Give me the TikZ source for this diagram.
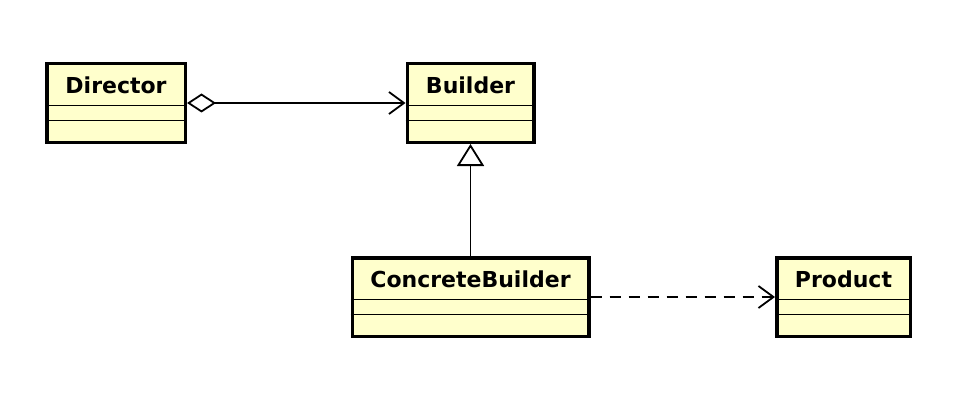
\documentclass[tikz,border=0pt]{standalone}
\usepackage{fontspec}
\setmainfont{DejaVu Sans}
\usepackage{tikz}
\usetikzlibrary{arrows.meta,calc}
\definecolor{classfill}{HTML}{FFFFCC}

\begin{document}
\begin{tikzpicture}[x=1pt,y=-1pt,
  umlclass/.style={draw,line width=3.5pt,fill=classfill,inner sep=0pt,
    text height=29.5pt,text depth=49pt,
    font=\fontsize{22}{26}\selectfont\bfseries},
  divider/.style={line width=1.8pt},
  link/.style={line width=1.8pt}]
\useasboundingbox (0,0) rectangle (978,396);
% classes
\node[umlclass,minimum width=138.5pt] (director) at (116,103) {Director};
\node[umlclass,minimum width=126.5pt] (builder) at (470.5,103) {Builder};
\node[umlclass,minimum width=236.5pt] (concrete) at (470.5,297) {ConcreteBuilder};
\node[umlclass,minimum width=133.5pt] (product) at (843.5,297) {Product};
\foreach \c in {director,builder,concrete,product}{
  \draw[divider] ($(\c.north west)+(0,43.5)$) -- ($(\c.north east)+(0,43.5)$);
  \draw[divider] ($(\c.north west)+(0,58.5)$) -- ($(\c.north east)+(0,58.5)$);
}
% relations
\draw[link,{Diamond[open,fill=white,length=29pt,width=19pt]}-{Straight Barb[length=15pt,width=22pt]}] (director) -- (builder);
\draw[link,-{Triangle[open,fill=white,length=22pt,width=27pt]}] (concrete) -- (builder);
\draw[link,dash pattern=on 11pt off 8pt,-{Straight Barb[length=15pt,width=22pt]}] (concrete) -- (product);
\end{tikzpicture}
\end{document}
